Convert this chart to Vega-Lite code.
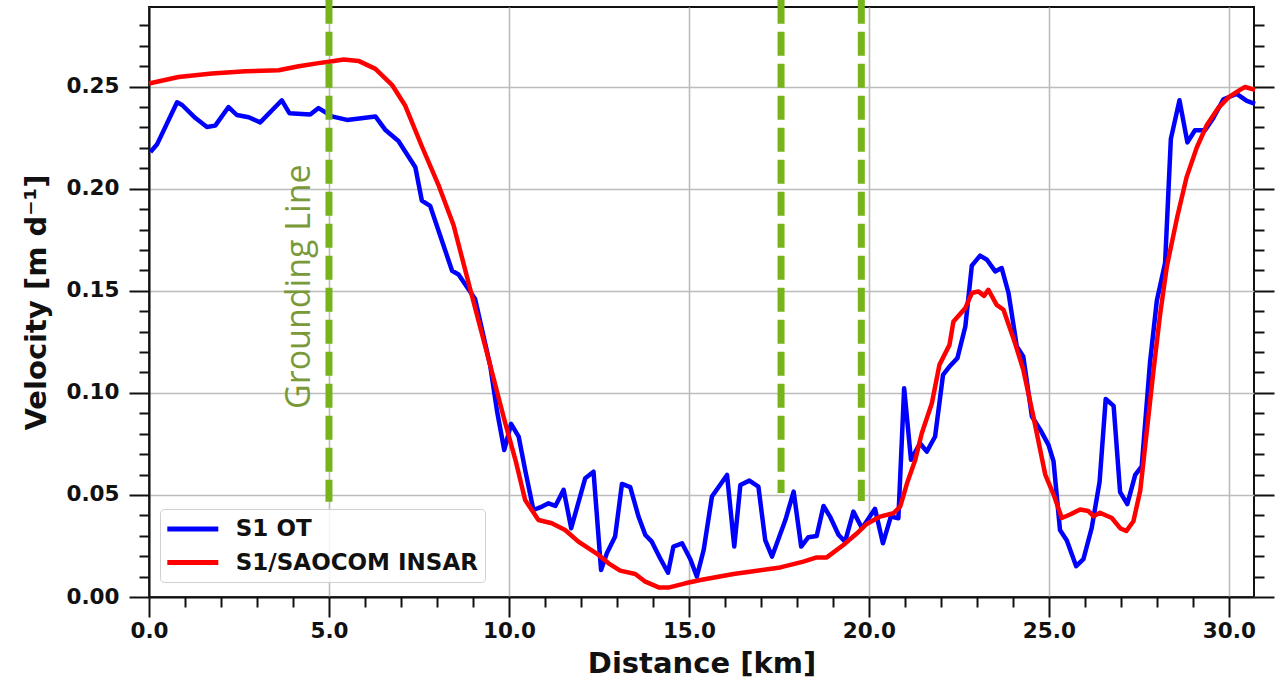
{
  "$schema": "https://vega.github.io/schema/vega-lite/v6.json",
  "width": 1105,
  "height": 590,
  "autosize": {"type": "none"},
  "padding": {"left": 149, "top": 7, "right": 27, "bottom": 88},
  "background": "white",
  "config": {
    "view": {"stroke": "#111111", "strokeWidth": 2},
    "font": "DejaVu Sans"
  },
  "datasets": {
    "ot": [
      {"series": "S1 OT", "distance": 0.04, "velocity": 0.218},
      {"series": "S1 OT", "distance": 0.22, "velocity": 0.2216},
      {"series": "S1 OT", "distance": 0.78, "velocity": 0.2423},
      {"series": "S1 OT", "distance": 0.92, "velocity": 0.241},
      {"series": "S1 OT", "distance": 1.29, "velocity": 0.2346},
      {"series": "S1 OT", "distance": 1.61, "velocity": 0.2302},
      {"series": "S1 OT", "distance": 1.84, "velocity": 0.2309},
      {"series": "S1 OT", "distance": 2.21, "velocity": 0.24},
      {"series": "S1 OT", "distance": 2.44, "velocity": 0.2361},
      {"series": "S1 OT", "distance": 2.77, "velocity": 0.235},
      {"series": "S1 OT", "distance": 3.09, "velocity": 0.2325},
      {"series": "S1 OT", "distance": 3.69, "velocity": 0.2433},
      {"series": "S1 OT", "distance": 3.9, "velocity": 0.237},
      {"series": "S1 OT", "distance": 4.48, "velocity": 0.2363},
      {"series": "S1 OT", "distance": 4.71, "velocity": 0.2395},
      {"series": "S1 OT", "distance": 4.94, "velocity": 0.237},
      {"series": "S1 OT", "distance": 5.08, "velocity": 0.2354},
      {"series": "S1 OT", "distance": 5.5, "velocity": 0.2337},
      {"series": "S1 OT", "distance": 5.9, "velocity": 0.2345},
      {"series": "S1 OT", "distance": 6.29, "velocity": 0.2354},
      {"series": "S1 OT", "distance": 6.56, "velocity": 0.2289},
      {"series": "S1 OT", "distance": 6.93, "velocity": 0.2234},
      {"series": "S1 OT", "distance": 7.4, "velocity": 0.2105},
      {"series": "S1 OT", "distance": 7.58, "velocity": 0.1942},
      {"series": "S1 OT", "distance": 7.81, "velocity": 0.1916},
      {"series": "S1 OT", "distance": 8.42, "velocity": 0.1598},
      {"series": "S1 OT", "distance": 8.6, "velocity": 0.158},
      {"series": "S1 OT", "distance": 9.06, "velocity": 0.146},
      {"series": "S1 OT", "distance": 9.48, "velocity": 0.1133},
      {"series": "S1 OT", "distance": 9.67, "velocity": 0.091},
      {"series": "S1 OT", "distance": 9.87, "velocity": 0.072},
      {"series": "S1 OT", "distance": 10.06, "velocity": 0.0848},
      {"series": "S1 OT", "distance": 10.27, "velocity": 0.0786},
      {"series": "S1 OT", "distance": 10.45, "velocity": 0.0623},
      {"series": "S1 OT", "distance": 10.68, "velocity": 0.0426},
      {"series": "S1 OT", "distance": 10.92, "velocity": 0.0443},
      {"series": "S1 OT", "distance": 11.1, "velocity": 0.0459},
      {"series": "S1 OT", "distance": 11.29, "velocity": 0.0446},
      {"series": "S1 OT", "distance": 11.52, "velocity": 0.0525},
      {"series": "S1 OT", "distance": 11.73, "velocity": 0.0337},
      {"series": "S1 OT", "distance": 12.12, "velocity": 0.0582},
      {"series": "S1 OT", "distance": 12.35, "velocity": 0.0614},
      {"series": "S1 OT", "distance": 12.56, "velocity": 0.0132},
      {"series": "S1 OT", "distance": 12.72, "velocity": 0.0214},
      {"series": "S1 OT", "distance": 12.95, "velocity": 0.0296},
      {"series": "S1 OT", "distance": 13.14, "velocity": 0.0554},
      {"series": "S1 OT", "distance": 13.37, "velocity": 0.0538},
      {"series": "S1 OT", "distance": 13.6, "velocity": 0.0394},
      {"series": "S1 OT", "distance": 13.79, "velocity": 0.0304},
      {"series": "S1 OT", "distance": 13.97, "velocity": 0.0271},
      {"series": "S1 OT", "distance": 14.2, "velocity": 0.019},
      {"series": "S1 OT", "distance": 14.42, "velocity": 0.0119},
      {"series": "S1 OT", "distance": 14.57, "velocity": 0.0247},
      {"series": "S1 OT", "distance": 14.81, "velocity": 0.0263},
      {"series": "S1 OT", "distance": 15.04, "velocity": 0.0185},
      {"series": "S1 OT", "distance": 15.22, "velocity": 0.01},
      {"series": "S1 OT", "distance": 15.41, "velocity": 0.023},
      {"series": "S1 OT", "distance": 15.64, "velocity": 0.0492},
      {"series": "S1 OT", "distance": 16.06, "velocity": 0.0598},
      {"series": "S1 OT", "distance": 16.26, "velocity": 0.0247},
      {"series": "S1 OT", "distance": 16.43, "velocity": 0.0549},
      {"series": "S1 OT", "distance": 16.68, "velocity": 0.057},
      {"series": "S1 OT", "distance": 16.93, "velocity": 0.0541},
      {"series": "S1 OT", "distance": 17.12, "velocity": 0.0279},
      {"series": "S1 OT", "distance": 17.31, "velocity": 0.0198},
      {"series": "S1 OT", "distance": 17.68, "velocity": 0.0377},
      {"series": "S1 OT", "distance": 17.91, "velocity": 0.0516},
      {"series": "S1 OT", "distance": 18.12, "velocity": 0.0247},
      {"series": "S1 OT", "distance": 18.32, "velocity": 0.0293},
      {"series": "S1 OT", "distance": 18.55, "velocity": 0.0299},
      {"series": "S1 OT", "distance": 18.74, "velocity": 0.0446},
      {"series": "S1 OT", "distance": 18.92, "velocity": 0.0394},
      {"series": "S1 OT", "distance": 19.16, "velocity": 0.0304},
      {"series": "S1 OT", "distance": 19.34, "velocity": 0.0271},
      {"series": "S1 OT", "distance": 19.57, "velocity": 0.0418},
      {"series": "S1 OT", "distance": 19.81, "velocity": 0.0337},
      {"series": "S1 OT", "distance": 20.17, "velocity": 0.0432},
      {"series": "S1 OT", "distance": 20.39, "velocity": 0.0263},
      {"series": "S1 OT", "distance": 20.61, "velocity": 0.0394},
      {"series": "S1 OT", "distance": 20.82, "velocity": 0.0386},
      {"series": "S1 OT", "distance": 20.98, "velocity": 0.1023},
      {"series": "S1 OT", "distance": 21.17, "velocity": 0.0672},
      {"series": "S1 OT", "distance": 21.42, "velocity": 0.0753},
      {"series": "S1 OT", "distance": 21.61, "velocity": 0.0712},
      {"series": "S1 OT", "distance": 21.84, "velocity": 0.0786},
      {"series": "S1 OT", "distance": 22.06, "velocity": 0.1088},
      {"series": "S1 OT", "distance": 22.24, "velocity": 0.1129},
      {"series": "S1 OT", "distance": 22.46, "velocity": 0.117},
      {"series": "S1 OT", "distance": 22.68, "velocity": 0.1325},
      {"series": "S1 OT", "distance": 22.86, "velocity": 0.1623},
      {"series": "S1 OT", "distance": 23.09, "velocity": 0.1672},
      {"series": "S1 OT", "distance": 23.28, "velocity": 0.1652},
      {"series": "S1 OT", "distance": 23.51, "velocity": 0.1595},
      {"series": "S1 OT", "distance": 23.69, "velocity": 0.1611},
      {"series": "S1 OT", "distance": 23.88, "velocity": 0.1489},
      {"series": "S1 OT", "distance": 24.11, "velocity": 0.1227},
      {"series": "S1 OT", "distance": 24.29, "velocity": 0.1178},
      {"series": "S1 OT", "distance": 24.53, "velocity": 0.0884},
      {"series": "S1 OT", "distance": 24.76, "velocity": 0.082},
      {"series": "S1 OT", "distance": 24.99, "velocity": 0.0745},
      {"series": "S1 OT", "distance": 25.13, "velocity": 0.0665},
      {"series": "S1 OT", "distance": 25.31, "velocity": 0.0328},
      {"series": "S1 OT", "distance": 25.5, "velocity": 0.0277},
      {"series": "S1 OT", "distance": 25.76, "velocity": 0.0151},
      {"series": "S1 OT", "distance": 25.96, "velocity": 0.0185},
      {"series": "S1 OT", "distance": 26.19, "velocity": 0.0337},
      {"series": "S1 OT", "distance": 26.41, "velocity": 0.0564},
      {"series": "S1 OT", "distance": 26.58, "velocity": 0.097},
      {"series": "S1 OT", "distance": 26.8, "velocity": 0.0936},
      {"series": "S1 OT", "distance": 26.98, "velocity": 0.0514},
      {"series": "S1 OT", "distance": 27.18, "velocity": 0.0455},
      {"series": "S1 OT", "distance": 27.4, "velocity": 0.0598},
      {"series": "S1 OT", "distance": 27.58, "velocity": 0.064},
      {"series": "S1 OT", "distance": 27.81, "velocity": 0.1147},
      {"series": "S1 OT", "distance": 28.0, "velocity": 0.1451},
      {"series": "S1 OT", "distance": 28.23, "velocity": 0.1636},
      {"series": "S1 OT", "distance": 28.39, "velocity": 0.2244},
      {"series": "S1 OT", "distance": 28.63, "velocity": 0.2433},
      {"series": "S1 OT", "distance": 28.85, "velocity": 0.2227},
      {"series": "S1 OT", "distance": 29.06, "velocity": 0.2286},
      {"series": "S1 OT", "distance": 29.34, "velocity": 0.2286},
      {"series": "S1 OT", "distance": 29.57, "velocity": 0.2346},
      {"series": "S1 OT", "distance": 29.85, "velocity": 0.2438},
      {"series": "S1 OT", "distance": 30.22, "velocity": 0.2464},
      {"series": "S1 OT", "distance": 30.5, "velocity": 0.243},
      {"series": "S1 OT", "distance": 30.73, "velocity": 0.2416}
    ],
    "insar": [
      {"series": "S1/SAOCOM INSAR", "distance": 0.0, "velocity": 0.2515},
      {"series": "S1/SAOCOM INSAR", "distance": 0.82, "velocity": 0.2547},
      {"series": "S1/SAOCOM INSAR", "distance": 1.75, "velocity": 0.2564},
      {"series": "S1/SAOCOM INSAR", "distance": 2.68, "velocity": 0.2575},
      {"series": "S1/SAOCOM INSAR", "distance": 3.6, "velocity": 0.258},
      {"series": "S1/SAOCOM INSAR", "distance": 4.16, "velocity": 0.26},
      {"series": "S1/SAOCOM INSAR", "distance": 4.71, "velocity": 0.2615},
      {"series": "S1/SAOCOM INSAR", "distance": 5.0, "velocity": 0.2622},
      {"series": "S1/SAOCOM INSAR", "distance": 5.41, "velocity": 0.2633},
      {"series": "S1/SAOCOM INSAR", "distance": 5.82, "velocity": 0.2626},
      {"series": "S1/SAOCOM INSAR", "distance": 6.29, "velocity": 0.2587},
      {"series": "S1/SAOCOM INSAR", "distance": 6.75, "velocity": 0.2509},
      {"series": "S1/SAOCOM INSAR", "distance": 7.12, "velocity": 0.2406},
      {"series": "S1/SAOCOM INSAR", "distance": 7.58, "velocity": 0.2208},
      {"series": "S1/SAOCOM INSAR", "distance": 8.04, "velocity": 0.2019},
      {"series": "S1/SAOCOM INSAR", "distance": 8.46, "velocity": 0.1822},
      {"series": "S1/SAOCOM INSAR", "distance": 8.97, "velocity": 0.1477},
      {"series": "S1/SAOCOM INSAR", "distance": 9.43, "velocity": 0.1168},
      {"series": "S1/SAOCOM INSAR", "distance": 9.9, "velocity": 0.085},
      {"series": "S1/SAOCOM INSAR", "distance": 10.18, "velocity": 0.0672},
      {"series": "S1/SAOCOM INSAR", "distance": 10.45, "velocity": 0.0475},
      {"series": "S1/SAOCOM INSAR", "distance": 10.82, "velocity": 0.0377},
      {"series": "S1/SAOCOM INSAR", "distance": 11.19, "velocity": 0.0361},
      {"series": "S1/SAOCOM INSAR", "distance": 11.56, "velocity": 0.0328},
      {"series": "S1/SAOCOM INSAR", "distance": 11.93, "velocity": 0.0271},
      {"series": "S1/SAOCOM INSAR", "distance": 12.49, "velocity": 0.0206},
      {"series": "S1/SAOCOM INSAR", "distance": 12.77, "velocity": 0.0165},
      {"series": "S1/SAOCOM INSAR", "distance": 13.09, "velocity": 0.0129},
      {"series": "S1/SAOCOM INSAR", "distance": 13.51, "velocity": 0.0113},
      {"series": "S1/SAOCOM INSAR", "distance": 13.79, "velocity": 0.0075},
      {"series": "S1/SAOCOM INSAR", "distance": 14.16, "velocity": 0.0047},
      {"series": "S1/SAOCOM INSAR", "distance": 14.43, "velocity": 0.0046},
      {"series": "S1/SAOCOM INSAR", "distance": 14.9, "velocity": 0.0067},
      {"series": "S1/SAOCOM INSAR", "distance": 15.32, "velocity": 0.0083},
      {"series": "S1/SAOCOM INSAR", "distance": 15.59, "velocity": 0.0092},
      {"series": "S1/SAOCOM INSAR", "distance": 16.24, "velocity": 0.0113},
      {"series": "S1/SAOCOM INSAR", "distance": 16.89, "velocity": 0.0129},
      {"series": "S1/SAOCOM INSAR", "distance": 17.54, "velocity": 0.0145},
      {"series": "S1/SAOCOM INSAR", "distance": 18.18, "velocity": 0.0173},
      {"series": "S1/SAOCOM INSAR", "distance": 18.55, "velocity": 0.0194},
      {"series": "S1/SAOCOM INSAR", "distance": 18.83, "velocity": 0.0194},
      {"series": "S1/SAOCOM INSAR", "distance": 19.29, "velocity": 0.0255},
      {"series": "S1/SAOCOM INSAR", "distance": 19.67, "velocity": 0.0312},
      {"series": "S1/SAOCOM INSAR", "distance": 19.94, "velocity": 0.0358},
      {"series": "S1/SAOCOM INSAR", "distance": 20.31, "velocity": 0.0394},
      {"series": "S1/SAOCOM INSAR", "distance": 20.68, "velocity": 0.041},
      {"series": "S1/SAOCOM INSAR", "distance": 20.87, "velocity": 0.0443},
      {"series": "S1/SAOCOM INSAR", "distance": 21.06, "velocity": 0.0557},
      {"series": "S1/SAOCOM INSAR", "distance": 21.29, "velocity": 0.0672},
      {"series": "S1/SAOCOM INSAR", "distance": 21.47, "velocity": 0.0802},
      {"series": "S1/SAOCOM INSAR", "distance": 21.75, "velocity": 0.0949},
      {"series": "S1/SAOCOM INSAR", "distance": 21.96, "velocity": 0.1137},
      {"series": "S1/SAOCOM INSAR", "distance": 22.24, "velocity": 0.1235},
      {"series": "S1/SAOCOM INSAR", "distance": 22.35, "velocity": 0.135},
      {"series": "S1/SAOCOM INSAR", "distance": 22.68, "velocity": 0.1415},
      {"series": "S1/SAOCOM INSAR", "distance": 22.86, "velocity": 0.1489},
      {"series": "S1/SAOCOM INSAR", "distance": 23.04, "velocity": 0.1497},
      {"series": "S1/SAOCOM INSAR", "distance": 23.2, "velocity": 0.1475},
      {"series": "S1/SAOCOM INSAR", "distance": 23.32, "velocity": 0.1505},
      {"series": "S1/SAOCOM INSAR", "distance": 23.55, "velocity": 0.1431},
      {"series": "S1/SAOCOM INSAR", "distance": 23.74, "velocity": 0.1407},
      {"series": "S1/SAOCOM INSAR", "distance": 24.06, "velocity": 0.1244},
      {"series": "S1/SAOCOM INSAR", "distance": 24.29, "velocity": 0.1113},
      {"series": "S1/SAOCOM INSAR", "distance": 24.57, "velocity": 0.0884},
      {"series": "S1/SAOCOM INSAR", "distance": 24.9, "velocity": 0.06},
      {"series": "S1/SAOCOM INSAR", "distance": 25.13, "velocity": 0.0503},
      {"series": "S1/SAOCOM INSAR", "distance": 25.36, "velocity": 0.0387},
      {"series": "S1/SAOCOM INSAR", "distance": 25.59, "velocity": 0.0404},
      {"series": "S1/SAOCOM INSAR", "distance": 25.87, "velocity": 0.0429},
      {"series": "S1/SAOCOM INSAR", "distance": 26.1, "velocity": 0.0421},
      {"series": "S1/SAOCOM INSAR", "distance": 26.24, "velocity": 0.0396},
      {"series": "S1/SAOCOM INSAR", "distance": 26.42, "velocity": 0.0413},
      {"series": "S1/SAOCOM INSAR", "distance": 26.75, "velocity": 0.0387},
      {"series": "S1/SAOCOM INSAR", "distance": 26.98, "velocity": 0.0337},
      {"series": "S1/SAOCOM INSAR", "distance": 27.15, "velocity": 0.0323},
      {"series": "S1/SAOCOM INSAR", "distance": 27.35, "velocity": 0.0371},
      {"series": "S1/SAOCOM INSAR", "distance": 27.54, "velocity": 0.0522},
      {"series": "S1/SAOCOM INSAR", "distance": 27.72, "velocity": 0.0809},
      {"series": "S1/SAOCOM INSAR", "distance": 27.91, "velocity": 0.1113},
      {"series": "S1/SAOCOM INSAR", "distance": 28.09, "velocity": 0.1383},
      {"series": "S1/SAOCOM INSAR", "distance": 28.28, "velocity": 0.162},
      {"series": "S1/SAOCOM INSAR", "distance": 28.56, "velocity": 0.1856},
      {"series": "S1/SAOCOM INSAR", "distance": 28.83, "velocity": 0.2058},
      {"series": "S1/SAOCOM INSAR", "distance": 29.11, "velocity": 0.2202},
      {"series": "S1/SAOCOM INSAR", "distance": 29.39, "velocity": 0.2312},
      {"series": "S1/SAOCOM INSAR", "distance": 29.71, "velocity": 0.2396},
      {"series": "S1/SAOCOM INSAR", "distance": 29.99, "velocity": 0.2447},
      {"series": "S1/SAOCOM INSAR", "distance": 30.31, "velocity": 0.2484},
      {"series": "S1/SAOCOM INSAR", "distance": 30.45, "velocity": 0.2498},
      {"series": "S1/SAOCOM INSAR", "distance": 30.73, "velocity": 0.2484}
    ],
    "markers": [
      {"distance": 5.0, "top": 0.2926, "bottom": 0.0466},
      {"distance": 17.56, "top": 0.2926, "bottom": 0.051},
      {"distance": 19.79, "top": 0.2926, "bottom": 0.047}
    ],
    "labels": [
      {"label": "Grounding Line", "distance": 4.48, "velocity": 0.152}
    ]
  },
  "layer": [
    {
      "data": {"name": "ot"},
      "mark": {"type": "line", "strokeWidth": 4.5, "strokeJoin": "round"},
      "encoding": {
        "x": {
          "field": "distance", "type": "quantitative",
          "scale": {"domain": [0, 30.7], "nice": false, "zero": false},
          "axis": {
            "orient": "bottom",
            "values": [0, 5, 10, 15, 20, 25, 30],
            "format": ".1f",
            "grid": true, "gridColor": "#bcbcbc", "gridWidth": 1.6,
            "domain": true, "domainColor": "#111111", "domainWidth": 2,
            "ticks": true, "tickSize": 20, "tickWidth": 2, "tickColor": "#111111",
            "labelFont": "DejaVu Sans", "labelFontSize": 21.5, "labelFontWeight": "bold", "labelColor": "#111111",
            "labelPadding": 3, "labelFlush": false, "labelOverlap": false,
            "title": "Distance [km]", "titleFont": "DejaVu Sans", "titleFontSize": 29, "titleFontWeight": "bold",
            "titleColor": "#111111", "titlePadding": 8
          }
        },
        "y": {
          "field": "velocity", "type": "quantitative",
          "scale": {"domain": [0, 0.289], "nice": false, "zero": false},
          "axis": {
            "orient": "left",
            "values": [0, 0.05, 0.1, 0.15, 0.2, 0.25],
            "format": ".2f",
            "grid": true, "gridColor": "#bcbcbc", "gridWidth": 1.6,
            "domain": true, "domainColor": "#111111", "domainWidth": 2,
            "ticks": true, "tickSize": 20, "tickWidth": 2, "tickColor": "#111111",
            "labelFont": "DejaVu Sans", "labelFontSize": 21.5, "labelFontWeight": "bold", "labelColor": "#111111",
            "labelPadding": 10, "labelFlush": false, "labelOverlap": false,
            "title": "Velocity [m d⁻¹]", "titleFont": "DejaVu Sans", "titleFontSize": 29, "titleFontWeight": "bold",
            "titleColor": "#111111", "titlePadding": 14
          }
        },
        "color": {
          "field": "series", "type": "nominal",
          "scale": {"domain": ["S1 OT", "S1/SAOCOM INSAR"], "range": ["#0000ff", "#ff0000"]},
          "legend": {
            "orient": "none", "legendX": 11, "legendY": 502,
            "title": null,
            "symbolType": "M-2.5,0H2.5",
            "symbolSize": 416,
            "symbolStrokeWidth": 5,
            "symbolOffset": 12.8,
            "labelOffset": 30,
            "labelLimit": 500,
            "labelFont": "DejaVu Sans", "labelFontSize": 23, "labelFontWeight": "bold", "labelColor": "#111111",
            "rowPadding": 8.6,
            "padding": 7,
            "strokeColor": "#d0d0d0",
            "fillColor": "rgba(255,255,255,0.85)",
            "cornerRadius": 4
          }
        }
      }
    },
    {
      "data": {"name": "insar"},
      "mark": {"type": "line", "strokeWidth": 4.5, "strokeJoin": "round"},
      "encoding": {
        "x": {"field": "distance", "type": "quantitative", "axis": null},
        "y": {
          "field": "velocity", "type": "quantitative",
          "axis": {
            "orient": "right",
            "values": [0.01, 0.02, 0.03, 0.04, 0.06, 0.07, 0.08, 0.09, 0.11, 0.12, 0.13, 0.14, 0.16, 0.17, 0.18, 0.19, 0.21, 0.22, 0.23, 0.24, 0.26, 0.27, 0.28],
            "labels": false, "grid": false, "domain": false,
            "ticks": true, "tickSize": 10, "tickWidth": 2, "tickColor": "#111111",
            "title": null
          }
        },
        "color": {"field": "series", "type": "nominal"}
      }
    },
    {
      "data": {"name": "markers"},
      "mark": {"type": "rule", "color": "#77b31a", "strokeWidth": 7, "strokeDash": [24, 8]},
      "encoding": {
        "x": {
          "field": "distance", "type": "quantitative",
          "axis": {
            "orient": "bottom",
            "values": [1, 2, 3, 4, 6, 7, 8, 9, 11, 12, 13, 14, 16, 17, 18, 19, 21, 22, 23, 24, 26, 27, 28, 29],
            "labels": false, "grid": false, "domain": false,
            "ticks": true, "tickSize": 10, "tickWidth": 2, "tickColor": "#111111",
            "title": null
          }
        },
        "y": {
          "field": "top", "type": "quantitative",
          "axis": {
            "orient": "left",
            "values": [0.01, 0.02, 0.03, 0.04, 0.06, 0.07, 0.08, 0.09, 0.11, 0.12, 0.13, 0.14, 0.16, 0.17, 0.18, 0.19, 0.21, 0.22, 0.23, 0.24, 0.26, 0.27, 0.28],
            "labels": false, "grid": false, "domain": false,
            "ticks": true, "tickSize": 10, "tickWidth": 2, "tickColor": "#111111",
            "title": null
          }
        },
        "y2": {"field": "bottom"}
      }
    },
    {
      "data": {"name": "labels"},
      "mark": {"type": "text", "angle": 270, "font": "Open Sans", "fontSize": 34, "color": "#7a9a3a", "align": "center", "baseline": "alphabetic"},
      "encoding": {
        "x": {"field": "distance", "type": "quantitative", "axis": null},
        "y": {
          "field": "velocity", "type": "quantitative",
          "axis": {
            "orient": "right",
            "values": [0, 0.05, 0.1, 0.15, 0.2, 0.25],
            "labels": false, "grid": false, "domain": false,
            "ticks": true, "tickSize": 20, "tickWidth": 2, "tickColor": "#111111",
            "title": null
          }
        },
        "text": {"field": "label"}
      }
    }
  ],
  "resolve": {
    "scale": {"x": "shared", "y": "shared", "color": "shared"},
    "axis": {"x": "independent", "y": "independent"}
  }
}
